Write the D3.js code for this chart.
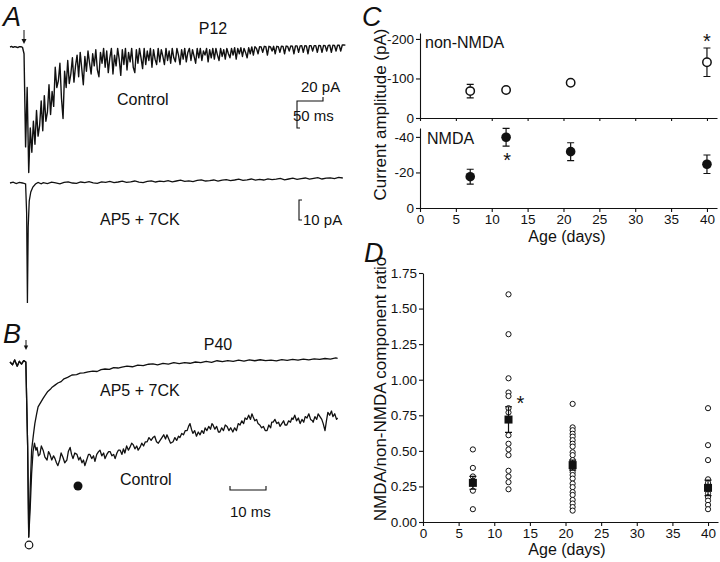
<!DOCTYPE html>
<html><head><meta charset="utf-8">
<script src="https://cdn.jsdelivr.net/npm/d3@7"></script>
<style>
body{margin:0;background:#fff}
svg{display:block}
text{font-family:"Liberation Sans",Arial,Helvetica,sans-serif;fill:#111}
.axis text{font-size:13.5px}
.axis path,.axis line{stroke:#111;stroke-width:1.1}
</style>
</head><body>
<svg id="fig" width="720" height="562"></svg>
<script>
// ---------------- DATA ----------------
// Panel A, P12 control trace: pA sampled every 3 ms from t = 0
const aControlDt = 3;
const aControl = [0,0.4,-0.3,0.3,0,-0.4,0.2,0.3,-0.2,
 -5,-74,-30,-93,-60,-78,-55,-72,-47,-66,-58,-40,-62,-36,-55,-48,-28,-50,-33,-44,-15,-30,-25,-12,-38,-53,-18,-30,-10,-27,-20,
 -8,-26,-14,-6,-22,-4,-16,-28,-7,-18,-3,-12,-20,-5,-14,-2,-17,-22,-4,-12,-1,-15,-3,-19,-8,-1,-20,-6,-14,-1,-9,-21,-2,-13,-1,-17,-4,-11,-1,-15,
 -19,-2,-12,-1,-8,-16,-1,-13,-3,-10,-1,-15,-2,-9,-13,-1,-11,-2,-7,-13,-1,-10,-3,-12,-1,-8,-11,-1,-6,-13,-2,-9,-1,-11,-4,-1,-10,-2,-7,-12,
 -1,-8,-1,-10,-3,-6,-1,-11,-2,-8,-1,-9,-1,-6,-10,-1,-7,-2,-9,-1,-5,-8,-1,-6,-0.5,-9,-1,-5,-0.5,-7,-1,-4,-8,-0.5,-5,0,-6,0.3,-1,-5,
 0.3,0,-4,0.5,0.3,-6,0.5,0,-3,0.5,-5,0.5,0.3,-4,0.6,0.5,-5,0.7,0.4,-3,0.8,0.6,-5,0.8,0.8,-4,0.8,1,-4,1,0.8,-5,1,1,-3,1,1,-4,1.2,1,
 -4,1.2,1,-3,1.2,1.3,-4,1.3,1.2,-3,1.4,1.3,-3,1.5,1.5,1.4];
// Panel A, AP5 + 7CK trace: [ms, pA]
const aAp5Head = [[0,0],[6,0.4],[12,-0.3],[18,0.3],[24,0],[30,-0.5],[32,-15],[33.5,-60],[35,-22],[37,-9],[40,-4.5],[44,-2],[49,-0.5],[54,0.3],[60,-0.4]];
const aAp5TailStart = 64, aAp5TailDt = 8;
const aAp5Tail = [0.2,-0.3,0.4,0.1,-0.4,0.3,0.6,0,-0.2,0.5,0.2,0.7,0.1,-0.2,0.6,0.3,0.8,0.2,0.5,0.9,
 0.3,0.6,1.0,0.4,0.2,0.8,1.1,0.5,0.9,0.7,1.2,0.6,1.0,1.4,0.8,1.1,0.7,1.3,1.6,1.0,
 1.2,1.5,0.9,1.4,1.7,1.2,1.5,1.9,1.3,1.6,2.0,1.4,1.8,1.5,2.1,1.7,1.9,2.3,1.6,2.0,
 2.4,1.8,2.2,2.5,1.9,2.3,2.7,2.0,2.4,2.6,2.2,2.8,2.5];
// Panel B, P40 traces: [ms, pA]
const bAp5 = [[0,0],[0.7,-2],[1.3,1.5],[2,-3],[2.6,0.5],[3.2,-1.5],[3.8,1],[4.4,0],[4.9,-60],[5.2,-125],[5.6,-91],[6.0,-63],[6.5,-52],[6.9,-44],[7.4,-37],[7.8,-32],[8.5,-29],[9.2,-26],[9.7,-24],[10.5,-21],[11.2,-19.5],[11.7,-18],[12.5,-16.5],[13.3,-15],[14.2,-14],[15,-12],[16,-11],[17.2,-9.3],[18.5,-9],[19.5,-8],[20.5,-7.8],[21.7,-7],[23,-6.5],[24.2,-6.8],[25.3,-5.5],[26.4,-5],[27.6,-5.2],[28.8,-4],[30,-4.3],[31.1,-3.6],[32.5,-3],[34,-3.4],[35.5,-2.2],[37,-2.6],[38.5,-1.6],[39.7,-1.4],[41,-2],[42.5,-1],[44,-1.5],[45.5,-0.5],[47,-1.2],[48.5,-0.4],[50,-0.9],[51.5,0],[53,-0.5],[54.5,0.4],[56,-0.2],[57.5,0.9],[59,0.3],[60.5,1],[62,0.5],[63.5,1.3],[65,0.6],[66.5,1.5],[68,0.9],[69.5,1.6],[71,1],[72.5,1.4],[74,0.8],[75.5,1.7],[77,1.2],[78.5,1.8],[80,1.3],[81.5,2],[83,1.5],[84.5,2.2],[86,1.9],[87.5,2.5],[89,2.1],[90.5,2.9],[91,2.6]];
const bControl = [[0,0],[0.7,-2],[1.3,1.5],[2,-3],[2.6,0.5],[3.2,-1.5],[3.8,1],[4.4,0],[4.9,-60],[5.2,-125],[5.6,-105],[6.0,-80],[6.4,-64],[6.8,-58],[7.2,-63],[7.5,-61],[7.9,-67],[8.3,-66],[8.7,-60],[9.2,-63],[9.7,-68],[10.3,-70],[10.7,-64],[11.1,-66],[11.6,-70],[12.1,-67],[12.5,-69],[12.9,-72],[13.3,-74],[13.8,-70],[14.2,-65],[14.7,-68],[15.2,-72],[15.8,-70],[16.2,-64],[16.7,-61],[17.1,-66],[17.5,-69],[18,-65],[18.6,-66],[19.1,-70],[19.5,-68],[20,-72],[20.4,-70],[20.8,-74],[21.3,-70],[21.8,-66],[22.2,-66],[22.7,-69],[23.2,-67],[23.6,-71],[24.1,-66],[24.6,-64],[25,-63],[25.5,-67],[26,-65],[26.4,-69],[26.9,-66],[27.4,-64],[27.8,-64],[28.3,-67],[28.8,-66],[29.2,-69],[29.7,-65],[30.1,-63],[30.6,-63],[31.1,-66],[31.5,-62],[31.9,-65],[32.4,-60],[32.9,-63],[33.3,-61],[33.8,-58],[34.2,-59],[34.7,-62],[35.2,-60],[35.6,-63],[36.1,-61],[36.6,-58],[37.1,-60],[37.6,-57],[38.1,-57],[38.6,-54],[39.2,-56],[39.7,-54],[40.2,-53],[40.7,-57],[41.2,-58],[41.7,-56],[42.2,-54],[42.7,-52],[43.2,-55],[43.6,-52],[44.1,-55],[44.6,-58],[45.3,-57],[45.8,-54],[46.3,-56],[46.8,-53],[47.2,-54],[47.7,-51],[48.2,-52],[48.7,-49],[49.2,-49],[49.6,-46],[50,-44],[50.4,-48],[50.8,-51],[51.3,-49],[51.8,-53],[52.3,-50],[52.8,-52],[53.3,-49],[53.8,-51],[54.2,-47],[54.7,-49],[55.2,-46],[55.7,-48],[56.1,-44],[56.4,-45],[56.9,-48],[57.4,-46],[57.9,-50],[58.3,-50],[58.8,-47],[59.3,-49],[59.8,-45],[60.3,-46],[60.8,-49],[61.3,-47],[61.9,-50],[62.4,-47],[62.9,-49],[63.4,-44],[63.9,-45],[64.4,-42],[64.9,-44],[65.3,-40],[65.8,-41],[66.3,-38],[66.8,-41],[67.2,-37],[67.5,-39],[68,-42],[68.5,-41],[68.9,-44],[69.4,-45],[69.9,-47],[70.4,-46],[70.9,-49],[71.4,-49],[71.9,-45],[72.4,-47],[72.7,-43],[73.1,-43],[73.6,-41],[74.1,-44],[74.6,-43],[75,-46],[75.5,-44],[76,-42],[76.4,-45],[76.9,-45],[77.4,-42],[77.9,-43],[78.3,-40],[78.6,-41],[79.1,-38],[79.6,-42],[80.1,-40],[80.6,-44],[81.1,-41],[81.6,-43],[82,-39],[82.5,-40],[83,-37],[83.5,-41],[84,-42],[84.2,-43],[84.7,-39],[85.2,-41],[85.6,-37],[86.1,-39],[86.6,-41],[87,-44],[87.5,-49],[87.9,-42],[88.3,-36],[88.8,-38],[89.3,-35],[89.7,-39],[90.2,-37],[90.7,-41],[91,-40]];

// Panel C
const ages = [7, 12, 21, 40];
const nonNmdaMean = [-68, -71, -89, -141];
const nonNmdaErr = [17, 6, 5, 36];
const nmdaMean = [-17.6, -39.8, -31.7, -24.6];
const nmdaErr = [4.2, 5, 5, 5.2];
const ageTicks = [0, 5, 10, 15, 20, 25, 30, 35, 40];
const nonNmdaTicks = [0, -100, -200];
const nmdaTicks = [0, -20, -40];

// Panel D
const ratio7 = [0.51, 0.38, 0.32, 0.29, 0.27, 0.22, 0.09];
const ratio12 = [1.60, 1.32, 1.01, 0.91, 0.885, 0.80, 0.77, 0.61, 0.55, 0.51, 0.47, 0.36, 0.32, 0.28, 0.23];
const ratio21 = [0.83, 0.665, 0.645, 0.62, 0.60, 0.575, 0.55, 0.53, 0.49, 0.47, 0.435, 0.41, 0.39, 0.375, 0.35, 0.33, 0.305, 0.27, 0.245, 0.21, 0.19, 0.155, 0.13, 0.105, 0.08];
const ratio40 = [0.80, 0.54, 0.435, 0.30, 0.275, 0.24, 0.20, 0.175, 0.15, 0.12, 0.09];
const ratioMean = [0.275, 0.72, 0.40, 0.24];
const ratioErr = [0.045, 0.09, 0.035, 0.055];
const ratioTicks = [0, 0.25, 0.5, 0.75, 1.0, 1.25, 1.5, 1.75];

// ---------------- DRAW ----------------
const svg = d3.select("#fig");
const ink = "#111";

function txt(x, y, s, size, opts = {}) {
  const t = svg.append("text").attr("x", x).attr("y", y).text(s)
    .style("font-size", size + "px");
  if (opts.anchor) t.attr("text-anchor", opts.anchor);
  if (opts.italic) t.style("font-style", "italic");
  if (opts.rotate) t.attr("transform", `rotate(-90,${x},${y})`);
  return t;
}

// ---- Panel A ----
const xA = d3.scaleLinear().domain([0, 650]).range([10, 348]);
const yAc = d3.scaleLinear().domain([-100, 0]).range([182, 47]);
const yAa = d3.scaleLinear().domain([-65, 0]).range([313, 183]);
const aControlPts = aControl.map((v, i) => [i * aControlDt, v]);
const aAp5Pts = aAp5Head.concat(aAp5Tail.map((v, i) => [aAp5TailStart + i * aAp5TailDt, v]));
svg.append("path").datum(aControlPts)
  .attr("d", d3.line().x(d => xA(d[0])).y(d => yAc(d[1])))
  .attr("fill", "none").attr("stroke", ink).attr("stroke-width", 1.4).attr("stroke-linejoin", "round");
svg.append("path").datum(aAp5Pts)
  .attr("d", d3.line().x(d => xA(d[0])).y(d => yAa(d[1])))
  .attr("fill", "none").attr("stroke", ink).attr("stroke-width", 1.3);

// arrow A
svg.append("line").attr("x1", 24).attr("x2", 24).attr("y1", 30).attr("y2", 40).attr("stroke", ink).attr("stroke-width", 1);
svg.append("path").attr("d", "M21.5,39 L26.5,39 L24,44 Z").attr("fill", ink);

// scale bars A
{
  const x0 = 297, yb = 101;
  const h20 = yAc(0) - yAc(-20);
  const w50 = xA(50) - xA(0);
  svg.append("path").attr("d", `M${x0+3},${yb-h20} H${x0} V${yb} H${x0+w50} V${yb-4}`)
    .attr("fill", "none").attr("stroke", ink).attr("stroke-width", 1.1);
  const h10 = yAa(0) - yAa(-10);
  const yt = 220;
  svg.append("path").attr("d", `M${x0+5},${yt} H${x0+2} V${yt+h10} H${x0+5}`)
    .attr("fill", "none").attr("stroke", ink).attr("stroke-width", 1.1);
}
txt(3, 26, "A", 27, {italic: true});
txt(213, 34, "P12", 16, {anchor: "middle"});
txt(117, 105, "Control", 16);
txt(301, 92, "20 pA", 15);
txt(293, 121, "50 ms", 15);
txt(100, 225, "AP5 + 7CK", 16);
txt(303, 225, "10 pA", 15);

// ---- Panel B ----
const xB = d3.scaleLinear().domain([0, 91]).range([10, 337.6]);
const yB = d3.scaleLinear().domain([-130, 0]).range([544, 362]);
const lineB = d3.line().x(d => xB(d[0])).y(d => yB(d[1]));
svg.append("path").datum(bControl).attr("d", lineB)
  .attr("fill", "none").attr("stroke", ink).attr("stroke-width", 1.3).attr("stroke-linejoin", "round");
svg.append("path").datum(bAp5).attr("d", lineB)
  .attr("fill", "none").attr("stroke", ink).attr("stroke-width", 1.3).attr("stroke-linejoin", "round");
svg.append("line").attr("x1", 26).attr("x2", 26).attr("y1", 340).attr("y2", 346).attr("stroke", ink).attr("stroke-width", 1);
svg.append("path").attr("d", "M23.8,345.5 L28.2,345.5 L26,350 Z").attr("fill", ink);
{
  const w10 = xB(10) - xB(0);
  svg.append("path").attr("d", `M230,486 V490 H${230 + w10} V486`)
    .attr("fill", "none").attr("stroke", ink).attr("stroke-width", 1.1);
}
svg.append("circle").attr("cx", 78).attr("cy", 486).attr("r", 4.5).attr("fill", ink);
svg.append("circle").attr("cx", 29).attr("cy", 545).attr("r", 3.8).attr("fill", "#fff").attr("stroke", ink).attr("stroke-width", 1.2);
txt(3, 343, "B", 27, {italic: true});
txt(218, 350, "P40", 16, {anchor: "middle"});
txt(100, 396, "AP5 + 7CK", 16);
txt(120, 485, "Control", 16);
txt(230, 517, "10 ms", 15);

// ---- Panel C ----
const xC = d3.scaleLinear().domain([0, 41.4]).range([420, 717]);
const yC1 = d3.scaleLinear().domain([0, -215]).range([118, 33]);
const yC2 = d3.scaleLinear().domain([0, -45]).range([208, 128]);

svg.append("g").attr("class", "axis").attr("transform", "translate(420,0)")
  .call(d3.axisLeft(yC1).tickValues(nonNmdaTicks).tickSize(4).tickSizeOuter(0).tickPadding(2).tickFormat(d => String(d)));
svg.append("g").attr("class", "axis").attr("transform", "translate(0,118)")
  .call(d3.axisBottom(xC).tickValues(ageTicks).tickSize(3).tickSizeOuter(0).tickFormat(""));
svg.append("g").attr("class", "axis").attr("transform", "translate(420,0)")
  .call(d3.axisLeft(yC2).tickValues(nmdaTicks).tickSize(4).tickSizeOuter(0).tickPadding(2).tickFormat(d => String(d)));
svg.append("g").attr("class", "axis").attr("transform", "translate(0,208)")
  .call(d3.axisBottom(xC).tickValues(ageTicks).tickSize(4).tickSizeOuter(0).tickPadding(2));

function errBars(xs, ys, es, xScale, yScale, cap) {
  xs.forEach((a, i) => {
    const x = xScale(a), y1 = yScale(ys[i] - es[i]), y2 = yScale(ys[i] + es[i]);
    svg.append("path").attr("d", `M${x},${y1} V${y2} M${x-cap},${y1} H${x+cap} M${x-cap},${y2} H${x+cap}`)
      .attr("stroke", ink).attr("stroke-width", 1.2).attr("fill", "none");
  });
}
errBars(ages, nonNmdaMean, nonNmdaErr, xC, yC1, 3.5);
errBars(ages, nmdaMean, nmdaErr, xC, yC2, 3.5);
svg.selectAll(".nn").data(ages).enter().append("circle")
  .attr("cx", d => xC(d)).attr("cy", (d, i) => yC1(nonNmdaMean[i])).attr("r", 4.2)
  .attr("fill", "#fff").attr("stroke", ink).attr("stroke-width", 1.5);
svg.selectAll(".nm").data(ages).enter().append("circle")
  .attr("cx", d => xC(d)).attr("cy", (d, i) => yC2(nmdaMean[i])).attr("r", 4.8)
  .attr("fill", ink);
txt(425, 48, "non-NMDA", 16);
txt(427, 144, "NMDA", 16);
txt(xC(40), 48, "*", 20, {anchor: "middle"});
txt(xC(12) + 1, 167, "*", 20, {anchor: "middle"});
txt(386, 114.5, "Current amplitude (pA)", 17, {anchor: "middle", rotate: true});
txt(567, 242, "Age (days)", 16, {anchor: "middle"});
txt(362, 26, "C", 27, {italic: true});

// ---- Panel D ----
const xD = d3.scaleLinear().domain([0, 41.4]).range([423, 718]);
const yD = d3.scaleLinear().domain([0, 1.75]).range([522, 273]);
svg.append("g").attr("class", "axis").attr("transform", "translate(423,0)")
  .call(d3.axisLeft(yD).tickValues(ratioTicks).tickSize(4).tickSizeOuter(0).tickPadding(2).tickFormat(d3.format(".2f")));
svg.append("g").attr("class", "axis").attr("transform", "translate(0,522)")
  .call(d3.axisBottom(xD).tickValues(ageTicks).tickSize(4).tickSizeOuter(0).tickPadding(2));
const groups = [ratio7, ratio12, ratio21, ratio40];
groups.forEach((vals, gi) => {
  svg.selectAll(null).data(vals).enter().append("circle")
    .attr("cx", xD(ages[gi])).attr("cy", d => yD(d)).attr("r", 2.6)
    .attr("fill", "#fff").attr("stroke", ink).attr("stroke-width", 1);
});
errBars(ages, ratioMean, ratioErr, xD, yD, 3.5);
svg.selectAll(".sq").data(ages).enter().append("rect")
  .attr("x", d => xD(d) - 4).attr("y", (d, i) => yD(ratioMean[i]) - 4)
  .attr("width", 8).attr("height", 8).attr("fill", ink);
txt(xD(12) + 12, 410, "*", 20, {anchor: "middle"});
txt(386, 389, "NMDA/non-NMDA component ratio", 17, {anchor: "middle", rotate: true});
txt(567, 555, "Age (days)", 16, {anchor: "middle"});
txt(364, 262, "D", 27, {italic: true});
</script>
</body></html>
